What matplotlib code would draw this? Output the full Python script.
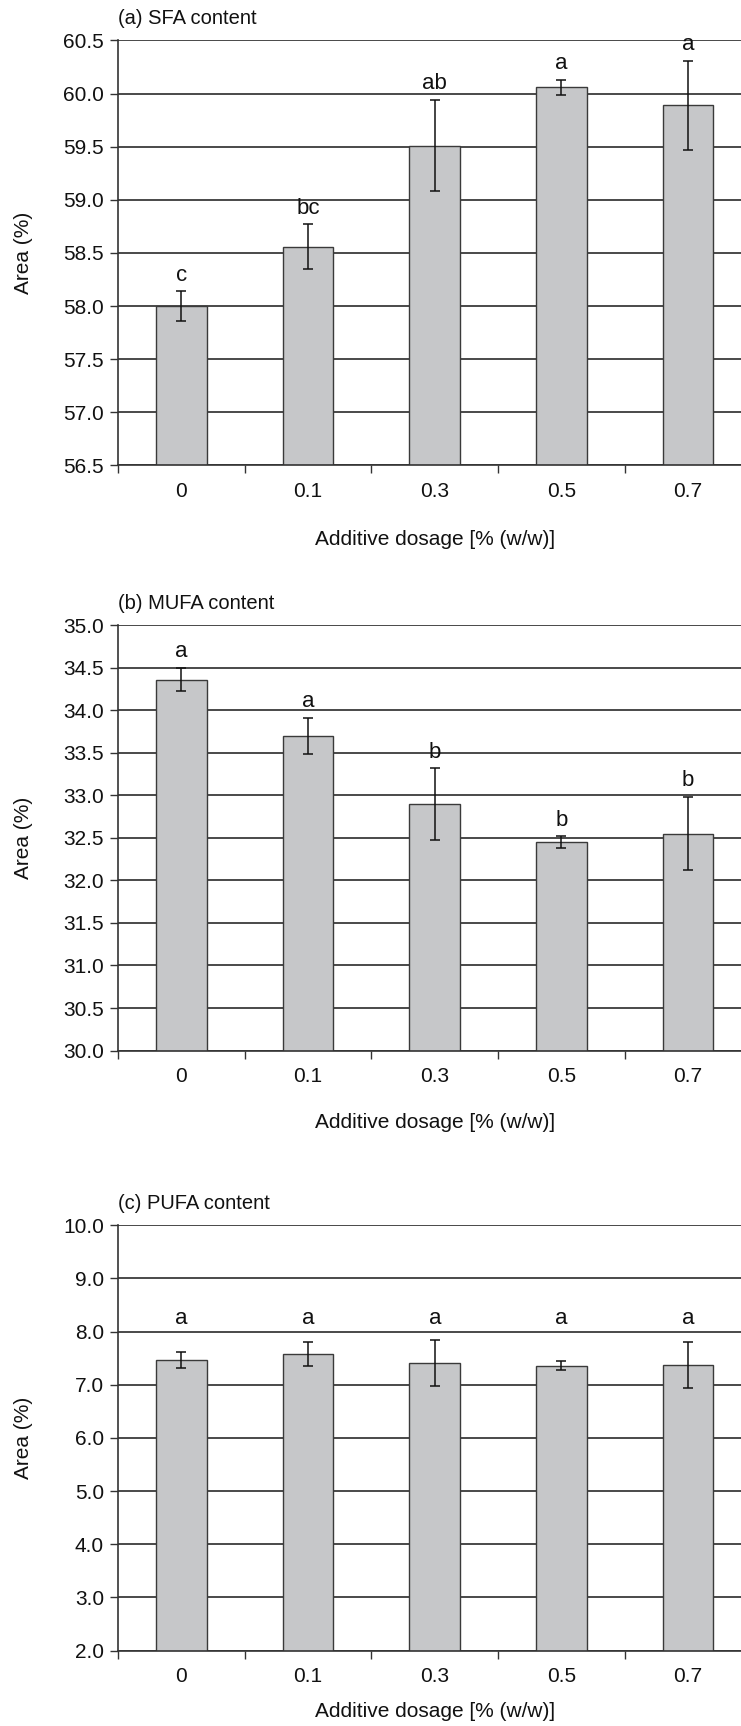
import matplotlib.pyplot as plt
import numpy as np

plt.rcParams['font.family'] = ['Liberation Sans', 'DejaVu Sans']

dosages = ['0', '0.1', '0.3', '0.5', '0.7']

sfa_mean = [58.00, 58.56, 59.51, 60.06, 59.89]
sfa_err = [0.14, 0.21, 0.43, 0.07, 0.42]
sfa_letters = ['c', 'bc', 'ab', 'a', 'a']

mufa_mean = [34.36, 33.70, 32.90, 32.45, 32.55]
mufa_err = [0.14, 0.21, 0.42, 0.07, 0.43]
mufa_letters = ['a', 'a', 'b', 'b', 'b']

pufa_mean = [7.46, 7.58, 7.41, 7.36, 7.37]
pufa_err = [0.15, 0.22, 0.43, 0.08, 0.43]
pufa_letters = ['a', 'a', 'a', 'a', 'a']

# (title, means, errors, letters, y-limits, y-ticks, fixed letter level or None)
panels = [
    ('(a) SFA content', sfa_mean, sfa_err, sfa_letters, (56.5, 60.5), np.arange(56.5, 60.51, 0.5), None),
    ('(b) MUFA content', mufa_mean, mufa_err, mufa_letters, (30.0, 35.0), np.arange(30.0, 35.01, 0.5), None),
    ('(c) PUFA content', pufa_mean, pufa_err, pufa_letters, (2.0, 10.0), np.arange(2.0, 10.01, 1.0), 8.05),
]

W, H = 741, 1726
fig = plt.figure(figsize=(W / 100, H / 100), dpi=100)
fig.patch.set_facecolor('white')

# axes boxes in pixels: (left, top, width, height)
boxes = [(118, 40.4, 633.5, 425.0), (118, 625.1, 633.5, 425.5), (118, 1225.2, 633.5, 425.3)]
label_gap = [74, 72, 61]

x = np.arange(len(dosages))
for (title, mean, err, letters, ylim, yticks, level), (l, t, w, h), gap in zip(panels, boxes, label_gap):
    ax = fig.add_axes([l / W, 1 - (t + h) / H, w / W, h / H])
    ax.set_axisbelow(True)
    ax.grid(axis='y', color='#2a2a2a', linewidth=1.2)
    ax.bar(x, mean, width=0.4, color='#c6c7c9', edgecolor='#3a3a3a', linewidth=1.0, zorder=2)
    ax.errorbar(x, mean, yerr=err, fmt='none', ecolor='#111111', elinewidth=1.1,
                capsize=3.5, capthick=1.1, zorder=3)
    for xi, m, e, s in zip(x, mean, err, letters):
        if level is None:
            ax.annotate(s, (xi, m + e), xytext=(0, 4), textcoords='offset points',
                        ha='center', va='bottom', fontsize=16, color='#111111')
        else:
            ax.text(xi, level, s, ha='center', va='bottom', fontsize=16, color='#111111')

    ax.set_xlim(-0.5, len(dosages) - 0.5)
    ax.set_ylim(*ylim)
    ax.set_yticks(yticks)
    ax.set_yticklabels([f'{v:.1f}' for v in yticks], fontsize=15, color='#111111')
    ax.tick_params(axis='y', direction='out', length=6, width=1.0, pad=4, color='#333333')

    ax.set_xticks(np.arange(-0.5, len(dosages), 1.0))
    ax.set_xticklabels([])
    ax.set_xticks(x, minor=True)
    ax.set_xticklabels(dosages, minor=True, fontsize=15, color='#111111')
    ax.tick_params(axis='x', which='major', direction='out', length=6, width=1.0, color='#333333')
    ax.tick_params(axis='x', which='minor', length=0, pad=12)

    for side in ['top', 'right']:
        ax.spines[side].set_visible(False)
    for side in ['left', 'bottom']:
        ax.spines[side].set_color('#333333')
        ax.spines[side].set_linewidth(1.2)

    ax.text(0, 1 + 22 / h, title, transform=ax.transAxes, ha='left', va='center',
            fontsize=14.5, color='#111111')
    ax.text(0.5, -gap / h, 'Additive dosage [% (w/w)]', transform=ax.transAxes,
            ha='center', va='center', fontsize=15, color='#111111')
    ax.text(-94 / w, 0.5, 'Area (%)', transform=ax.transAxes, rotation=90,
            ha='center', va='center', fontsize=15, color='#111111')

fig.savefig('out.png', dpi=100, facecolor='white')
